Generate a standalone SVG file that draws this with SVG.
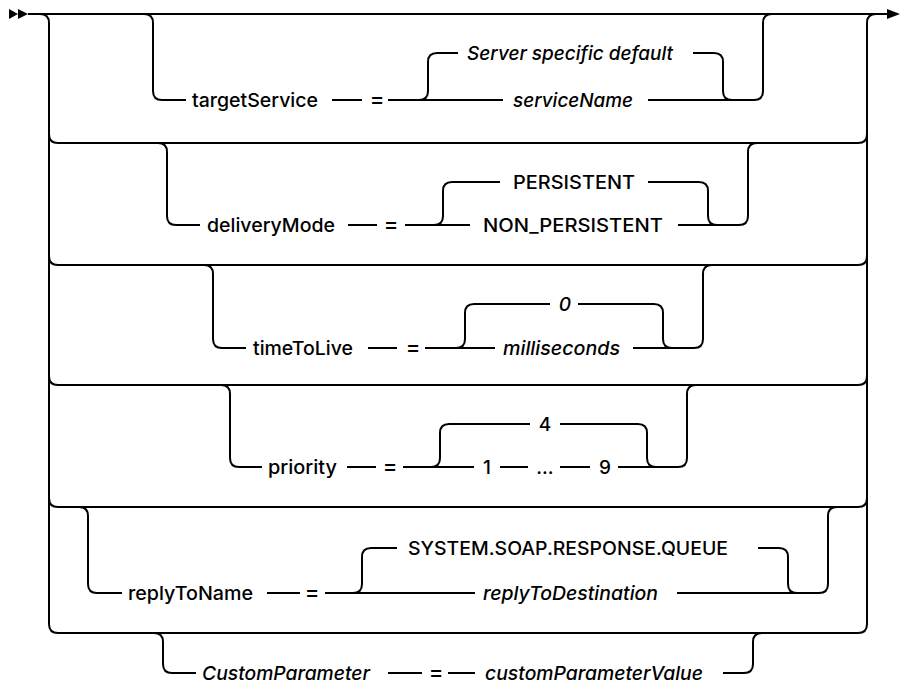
<svg xmlns="http://www.w3.org/2000/svg" width="901" height="686" viewBox="0 0 901 686">
<style>
.c{fill:none;stroke:#000;stroke-width:2}
text{font-family:Inter,"Liberation Sans",sans-serif;font-size:19px;font-weight:500;fill:#000}
.i{font-style:italic}
.m{text-anchor:middle}
.e{text-anchor:middle;font-size:22px}
</style>
<rect width="901" height="686" fill="#fff"/>
<g id="connectors">
<path class="c" d="M28 14 H888"/>
<path class="c" d="M40 14 Q49 14 49 23 V624 Q49 633 58 633 H858 Q867 633 867 624 V23 Q867 14 876 14"/>
<path class="c" d="M49 134 Q49 143 58 143 H858 Q867 143 867 134"/>
<path class="c" d="M49 256 Q49 265 58 265 H858 Q867 265 867 256"/>
<path class="c" d="M49 376 Q49 385 58 385 H858 Q867 385 867 376"/>
<path class="c" d="M49 498 Q49 507 58 507 H858 Q867 507 867 498"/>
<!-- row1 -->
<path class="c" d="M144 14 Q153 14 153 23 V91 Q153 100 162 100 H186"/>
<path class="c" d="M332 100 H362"/>
<path class="c" d="M388 100 H503"/>
<path class="c" d="M419 100 Q428 100 428 91 V62 Q428 53 437 53 H458"/>
<path class="c" d="M693 53 H714 Q723 53 723 62 V91 Q723 100 732 100"/>
<path class="c" d="M648 100 H754 Q763 100 763 91 V23 Q763 14 772 14"/>
<!-- row2 -->
<path class="c" d="M158 143 Q167 143 167 152 V216 Q167 225 176 225 H200"/>
<path class="c" d="M348 225 H377"/>
<path class="c" d="M405 225 H470"/>
<path class="c" d="M434 225 Q443 225 443 216 V191 Q443 182 452 182 H500"/>
<path class="c" d="M648 182 H699 Q708 182 708 191 V216 Q708 225 717 225"/>
<path class="c" d="M678 225 H739 Q748 225 748 216 V152 Q748 143 757 143"/>
<!-- row3 -->
<path class="c" d="M204 265 Q213 265 213 274 V339 Q213 348 222 348 H246"/>
<path class="c" d="M368 348 H397"/>
<path class="c" d="M425 348 H495"/>
<path class="c" d="M456 348 Q465 348 465 339 V313 Q465 304 474 304 H550"/>
<path class="c" d="M578 304 H654 Q663 304 663 313 V339 Q663 348 672 348"/>
<path class="c" d="M633 348 H694 Q703 348 703 339 V274 Q703 265 712 265"/>
<!-- row4 -->
<path class="c" d="M221 385 Q230 385 230 394 V458 Q230 467 239 467 H262"/>
<path class="c" d="M347 467 H376"/>
<path class="c" d="M403 467 H474"/>
<path class="c" d="M431 467 Q440 467 440 458 V433 Q440 424 449 424 H530"/>
<path class="c" d="M560 424 H638 Q647 424 647 433 V458 Q647 467 656 467"/>
<path class="c" d="M500 467 H528"/>
<path class="c" d="M560 467 H590"/>
<path class="c" d="M618 467 H678 Q687 467 687 458 V394 Q687 385 696 385"/>
<!-- row5 -->
<path class="c" d="M79 507 Q88 507 88 516 V584 Q88 593 97 593 H122"/>
<path class="c" d="M267 593 H300"/>
<path class="c" d="M325 593 H475"/>
<path class="c" d="M353 593 Q362 593 362 584 V557 Q362 548 371 548 H397"/>
<path class="c" d="M758 548 H779 Q788 548 788 557 V584 Q788 593 797 593"/>
<path class="c" d="M677 593 H819 Q828 593 828 584 V516 Q828 507 837 507"/>
<!-- row6 -->
<path class="c" d="M154 633 Q163 633 163 642 V664 Q163 673 172 673 H196"/>
<path class="c" d="M388 673 H422"/>
<path class="c" d="M448 673 H475"/>
<path class="c" d="M723 673 H744 Q753 673 753 664 V642 Q753 633 762 633"/>
<polygon points="9,9 18,14 9,19"/>
<polygon points="18,9 28,14 18,19"/>
<polygon points="887,9 900,14 887,19"/>
</g>
<g id="targetService"><text x="192" y="107" textLength="126" lengthAdjust="spacingAndGlyphs">targetService</text><text class="e" x="377" y="107">=</text></g>
<g id="serverDefault"><text class="i" x="467" y="60" textLength="206" lengthAdjust="spacingAndGlyphs">Server specific default</text></g>
<g id="serviceName"><text class="i" x="513" y="107" textLength="120" lengthAdjust="spacingAndGlyphs">serviceName</text></g>
<g id="deliveryMode"><text x="207" y="232" textLength="128" lengthAdjust="spacingAndGlyphs">deliveryMode</text><text class="e" x="391" y="232">=</text></g>
<g id="persistent"><text x="513" y="189" textLength="122" lengthAdjust="spacingAndGlyphs">PERSISTENT</text></g>
<g id="nonPersistent"><text x="483" y="232" textLength="180" lengthAdjust="spacingAndGlyphs">NON_PERSISTENT</text></g>
<g id="timeToLive"><text x="253" y="355" textLength="100" lengthAdjust="spacingAndGlyphs">timeToLive</text><text class="e" x="413" y="355">=</text></g>
<g id="zero"><text class="i m" x="565" y="311">0</text></g>
<g id="milliseconds"><text class="i" x="503" y="355" textLength="117" lengthAdjust="spacingAndGlyphs">milliseconds</text></g>
<g id="priority"><text x="268" y="474" textLength="69" lengthAdjust="spacingAndGlyphs">priority</text><text class="e" x="390" y="474">=</text></g>
<g id="four"><text class="m" x="545" y="431">4</text></g>
<g id="range"><text class="m" x="487" y="474">1</text><text class="m" x="545" y="474">...</text><text class="m" x="605" y="474">9</text></g>
<g id="replyToName"><text x="128" y="600" textLength="125" lengthAdjust="spacingAndGlyphs">replyToName</text><text class="e" x="312" y="600">=</text></g>
<g id="systemQueue"><text x="408" y="555" textLength="320" lengthAdjust="spacingAndGlyphs">SYSTEM.SOAP.RESPONSE.QUEUE</text></g>
<g id="replyToDestination"><text class="i" x="483" y="600" textLength="175" lengthAdjust="spacingAndGlyphs">replyToDestination</text></g>
<g id="customParameter"><text class="i" x="202" y="680" textLength="168" lengthAdjust="spacingAndGlyphs">CustomParameter</text><text class="e" x="436" y="680">=</text><text class="i" x="485" y="680" textLength="218" lengthAdjust="spacingAndGlyphs">customParameterValue</text></g>
</svg>
